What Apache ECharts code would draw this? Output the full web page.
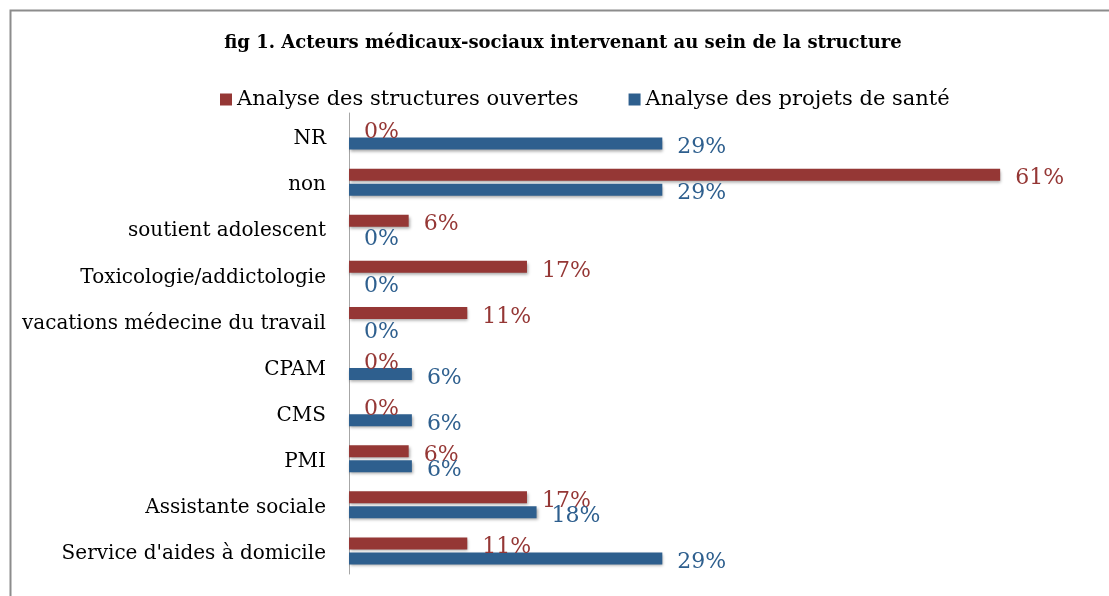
<!DOCTYPE html>
<html>
<head>
<meta charset="utf-8">
<script src="https://cdn.jsdelivr.net/npm/echarts@6/dist/echarts.min.js"></script>
<style>html,body{margin:0;padding:0;background:#fff;}#c{width:1109px;height:596px;}</style>
</head>
<body>
<div id="c"></div>
<script>
const titleText = 'fig 1. Acteurs médicaux-sociaux intervenant au sein de la structure';
const categories = ['NR', 'non', 'soutient adolescent', 'Toxicologie/addictologie', 'vacations médecine du travail', 'CPAM', 'CMS', 'PMI', 'Assistante sociale', "Service d'aides à domicile"];
const seriesNames = ['Analyse des structures ouvertes', 'Analyse des projets de santé'];
const structuresOuvertes = [0, 61.1, 5.6, 16.7, 11.1, 0, 0, 5.6, 16.7, 11.1];
const projetsSante = [29.4, 29.4, 0, 0, 0, 5.9, 5.9, 5.9, 17.6, 29.4];

const RED = '#953735';
const BLUE = '#2E5F8E';
const serif = 'DejaVu Serif';

const chart = echarts.init(document.getElementById('c'));
function mkSeries(name, data, color) {
  return {
    name: name,
    type: 'bar',
    data: data,
    barWidth: 12,
    barGap: '25%',
    itemStyle: { color: color, shadowBlur: 3, shadowColor: 'rgba(0,0,0,0.35)', shadowOffsetX: 1, shadowOffsetY: 2 },
    label: {
      show: true,
      position: 'right',
      distance: 15,
      offset: [0, 4],
      color: color,
      fontFamily: serif,
      fontSize: 22,
      formatter: p => Math.round(p.value) + '%'
    }
  };
}
chart.setOption({
  animation: false,
  backgroundColor: '#fff',
  graphic: [{
    type: 'rect', left: 8, top: 8, shape: { width: 1200, height: 700 },
    style: { fill: 'none', stroke: '#8c8c8c', lineWidth: 2 }, silent: true
  }],
  title: {
    text: titleText,
    left: 563, top: 34, textAlign: 'center', padding: 0,
    textStyle: { fontFamily: serif, fontWeight: 'bold', fontSize: 18, color: '#000' }
  },
  legend: {
    left: 220, top: 89, padding: 0,
    itemWidth: 12, itemHeight: 12, itemGap: 50,
    icon: 'rect',
    textStyle: { fontFamily: serif, fontSize: 21, color: '#000' },
    data: seriesNames
  },
  grid: { left: 349, right: 14, top: 113, bottom: 22, containLabel: false },
  xAxis: {
    type: 'value', min: 0, max: 70, show: false,
    splitLine: { show: false }
  },
  yAxis: {
    type: 'category', data: categories, inverse: true,
    axisLine: { show: true, lineStyle: { color: '#a6a6a6', width: 1 } },
    axisTick: { show: false },
    axisLabel: {
      margin: 23,
      formatter: v => '{a|' + v + '}',
      rich: { a: { fontFamily: serif, fontSize: 20, color: '#000', padding: [6, 0, 0, 0] } }
    }
  },
  series: [
    mkSeries(seriesNames[0], structuresOuvertes, RED),
    mkSeries(seriesNames[1], projetsSante, BLUE)
  ]
});
</script>
</body>
</html>
